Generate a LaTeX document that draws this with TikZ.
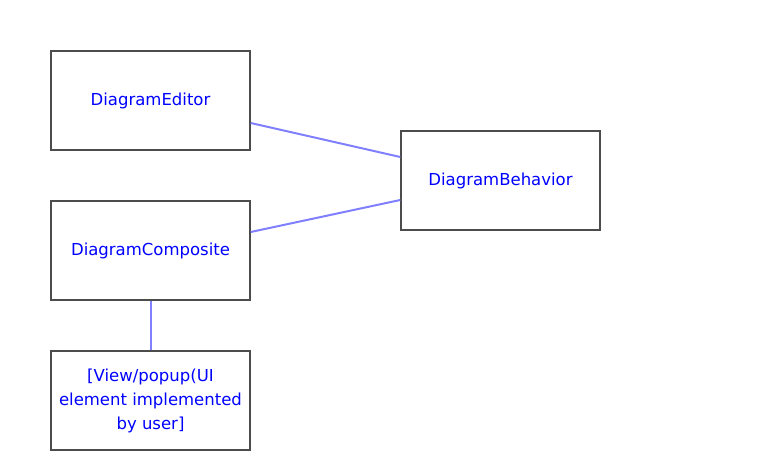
\documentclass[tikz,border=0pt]{standalone}
\usepackage{fontspec}
\setmainfont{DejaVu Sans}
\usepackage{tikz}

\begin{document}
\begin{tikzpicture}[x=1pt,y=-1pt]
				\tikzstyle{block}=[draw=black!70,line width=1.5pt,fill=white,minimum width=199pt,minimum height=99pt,text=blue,font=\fontsize{16.5}{24}\selectfont,align=center,inner sep=2pt]
				\tikzstyle{link}=[draw=blue!50,line width=2pt]
				
				\useasboundingbox (0,0) rectangle (772,476);
				
				\node[block](editor) at (150.5,100.5){DiagramEditor};
				\node[block](composite) at (150.5,250.5){DiagramComposite};
				\node[block](view) at (150.5,400.5){[View/popup(UI\\element implemented\\by user]};
				
				\node[block](behavior) at (500.5,180.5){DiagramBehavior};
				
				
				\draw[link] ([yshift=-22.5pt]editor.east) -- ([yshift=23.5pt]behavior.west);
				\draw[link] ([yshift=18.5pt]composite.east) -- ([yshift=-19.5pt]behavior.west);
				
				\draw[link] (composite) -- (view);
				
				\end{tikzpicture}
\end{document}
